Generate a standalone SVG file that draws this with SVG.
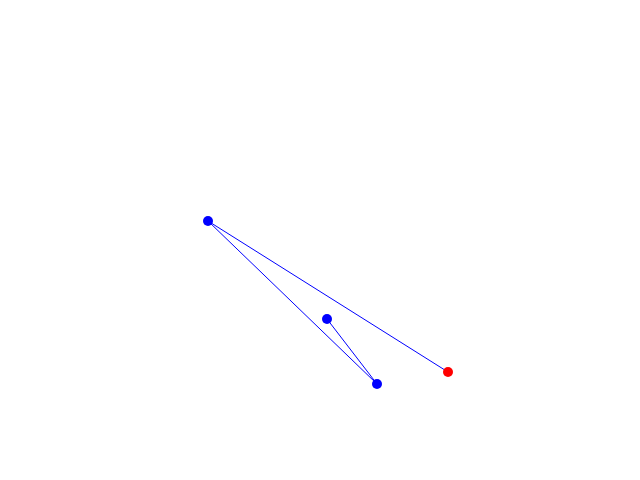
<svg xmlns="http://www.w3.org/2000/svg" width="640" height="480" viewBox="0 0 640 480">
<style>
.edge{stroke:#0000ff;stroke-width:1;fill:none}
.node{fill:#0000ff}
.root{fill:#ff0000}
</style>
<rect width="640" height="480" fill="#ffffff"/>
<g id="connectors">
<line class="edge" x1="208" y1="221" x2="448" y2="372"/>
<line class="edge" x1="208" y1="221" x2="377" y2="384"/>
<line class="edge" x1="327" y1="319" x2="377" y2="384"/>
</g>
<g id="node-a"><circle class="node" cx="208" cy="221" r="5"/></g>
<g id="node-b"><circle class="node" cx="327" cy="319" r="5"/></g>
<g id="node-c"><circle class="node" cx="377" cy="384" r="5"/></g>
<g id="node-d"><circle class="root" cx="448" cy="372" r="5"/></g>
</svg>
